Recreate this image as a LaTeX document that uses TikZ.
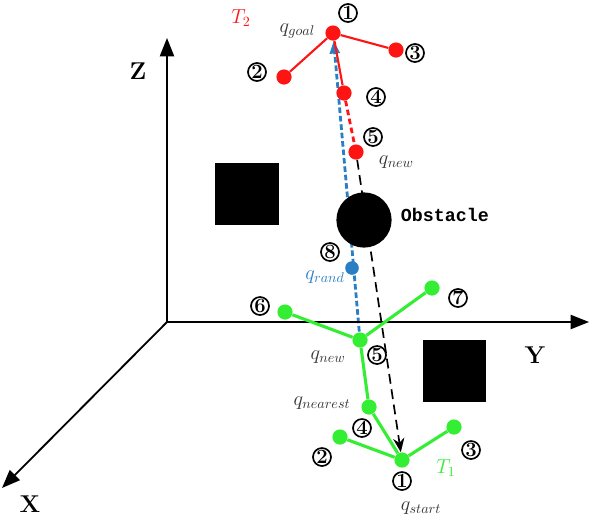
\documentclass[tikz,border=0pt]{standalone}
\usepackage{fontspec}
\usepackage{amsmath}
\newfontfamily\obsfont{Liberation Mono}
\usetikzlibrary{arrows.meta, backgrounds}
\definecolor{treered}{HTML}{FF1414}
\definecolor{treegreen}{HTML}{33EE33}
\definecolor{randblue}{HTML}{2A7FC4}

\begin{document}
\begin{tikzpicture}[x=0.025cm, y=-0.025cm,
  dot/.style={circle, inner sep=0pt, minimum size=0.38cm},
  num/.style={circle, draw, line width=1.2pt, inner sep=0pt,
              minimum size=0.45cm, font=\Large\bfseries},
  axis/.style={-{Triangle[length=13pt, width=10pt]}, line width=1.3pt},
  axlab/.style={font=\LARGE\bfseries},
  qlab/.style={font=\Large, text=black!80},
  redge/.style={treered, line width=1.5pt},
  gedge/.style={treegreen, line width=2.2pt},
  block/.style={fill=black},
]
  \useasboundingbox (0,0) rectangle (590,522);

  %% Axes
  \coordinate (orig) at (167,322);
  \coordinate (zend) at (167,38);
  \coordinate (yend) at (589,322);
  \coordinate (xend) at (2,488);
  \draw[axis] (orig) -- (zend);
  \draw[axis] (orig) -- (yend);
  \draw[axis] (orig) -- (xend);
  \node[axlab] (zlab) at (138,71) {Z};
  \node[axlab] (ylab) at (535,355) {Y};
  \node[axlab] (xlab) at (30,504) {X};

  %% Obstacles
  \fill[block] (215,163) rectangle (279,225);
  \fill[block] (423,340) rectangle (486,402);
  \node[circle, fill=black, minimum size=1.38cm, inner sep=0pt] (obs) at (364,220) {};
  \node[font=\obsfont\bfseries\fontsize{13}{15}\selectfont, anchor=west] (obslab) at (396,215) {Obstacle};

  %% Tree T2 (goal)
  \node[dot, fill=treered] (g1) at (333,33) {};
  \node[dot, fill=treered] (g2) at (284,77) {};
  \node[dot, fill=treered] (g3) at (396,50) {};
  \node[dot, fill=treered] (g4) at (344,93) {};
  \node[dot, fill=treered] (g5) at (356,152) {};
  \draw[redge] (g1) -- (g2);
  \draw[redge] (g1) -- (g3);
  \draw[redge] (g1) -- (g4);
  \draw[redge, line width=2pt, dash pattern=on 4pt off 2.5pt] (g4) -- (g5);

  \node[num] (gn1) at (348,13) {1};
  \node[num] (gn2) at (257,72) {2};
  \node[num] (gn3) at (415,53) {3};
  \node[num] (gn4) at (376,97) {4};
  \node[num] (gn5) at (373,137) {5};
  \node[qlab, anchor=east] (qgoal) at (320,31) {$q_{goal}$};
  \node[qlab, anchor=west] (qnewr) at (374,162) {$q_{new}$};
  \node[text=treered, font=\Large] (t2) at (241,18) {$T_2$};

  %% Tree T1 (start)
  \node[dot, fill=treegreen] (s1) at (402,460) {};
  \node[dot, fill=treegreen] (s2) at (340,437) {};
  \node[dot, fill=treegreen] (s3) at (454,427) {};
  \node[dot, fill=treegreen] (s4) at (369,407) {};
  \node[dot, fill=treegreen] (s5) at (360,340) {};
  \node[dot, fill=treegreen] (s6) at (285,312) {};
  \node[dot, fill=treegreen] (s7) at (432,288) {};
  \draw[gedge] (s1) -- (s2);
  \draw[gedge] (s1) -- (s3);
  \draw[gedge] (s1) -- (s4);
  \draw[gedge] (s4) -- (s5);
  \draw[gedge] (s5) -- (s6);
  \draw[gedge] (s5) -- (s7);

  \node[num] (sn1) at (402,481) {1};
  \node[num] (sn2) at (322,457) {2};
  \node[num] (sn3) at (471,450) {3};
  \node[num] (sn4) at (362,428) {4};
  \node[num] (sn5) at (377,355) {5};
  \node[num] (sn6) at (260,306) {6};
  \node[num] (sn7) at (458,298) {7};
  \node[qlab] (qnewg) at (328,357) {$q_{new}$};
  \node[qlab] (qnear) at (322,403) {$q_{nearest}$};
  \node[qlab] (qstart) at (421,508) {$q_{start}$};
  \node[text=treegreen, font=\Large] (t1) at (446,468) {$T_1$};

  %% Random sample
  \node[dot, fill=randblue, minimum size=0.34cm] (rnd) at (352,268) {};
  \node[num] (rn8) at (330,252) {8};
  \node[text=randblue, font=\Large] (qrand) at (325,277) {$q_{rand}$};

  %% Connection attempts
  \begin{scope}[on background layer]
    \draw[randblue, line width=2pt, dash pattern=on 4pt off 2pt,
          -{Triangle[length=9pt, width=7pt]}] (s5.center) -- (g1);
    \draw[black, line width=1.2pt, dash pattern=on 7pt off 4pt,
          -{Stealth[length=10pt, width=8pt]}] (g5) -- (s1);
  \end{scope}
\end{tikzpicture}
\end{document}
